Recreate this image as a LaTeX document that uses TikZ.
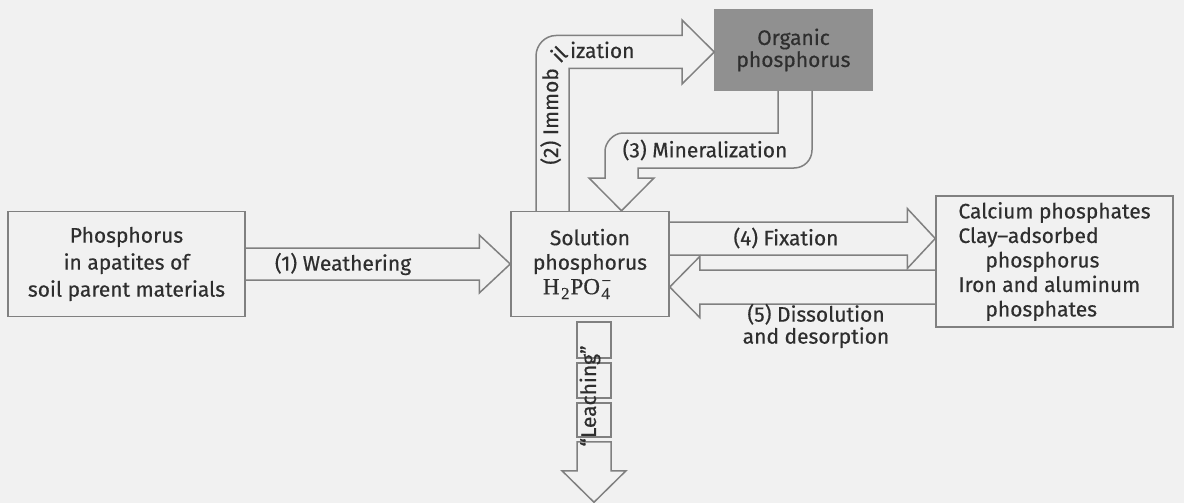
\documentclass[tikz,border=0pt]{standalone}
\usepackage{fontspec}
\setmainfont{Fira Sans}[FakeBold=0.45]
\newfontfamily\hserif{Liberation Serif}[FakeBold=0.6]
\usetikzlibrary{calc}
\definecolor{bgc}{HTML}{F1F1F1}
\definecolor{linec}{HTML}{808080}
\definecolor{txtc}{HTML}{2E2E2E}
\definecolor{orgc}{HTML}{909090}
\newcommand{\hsub}[1]{\raisebox{-5pt}{\fontsize{17}{17}\selectfont #1}}
\newcommand{\hpo}{{\hserif\fontsize{23}{24}\selectfont H\kern1.5pt\hsub{2}\kern1pt PO\kern1.5pt\rlap{\hsub{4}}\raisebox{8pt}{\fontsize{17}{17}\selectfont −}}}
\begin{document}
\begin{tikzpicture}[x=1pt,y=-1pt,
  pbox/.style={draw=linec,line width=1.5pt,text=txtc,align=center,inner sep=0pt},
  barrow/.style={draw=linec,line width=1.5pt,line join=miter},
  lbl/.style={text=txtc,inner sep=0pt,font=\fontsize{21}{25}\selectfont}]
\fill[bgc] (0,0) rectangle (1184,503);
\useasboundingbox (0,0) rectangle (1184,503);

% boxes
\node[pbox,minimum width=237pt,minimum height=105pt,font=\fontsize{21}{27}\selectfont] (src) at (126.5,264) {Phosphorus\\in apatites of\\soil parent materials};
\node[pbox,minimum width=158pt,minimum height=105pt,font=\fontsize{21}{24.5}\selectfont] (sol) at (590,264) {Solution\\phosphorus\\\hpo\hspace*{26pt}};
\node[pbox,draw=orgc,fill=orgc,minimum width=157pt,minimum height=80pt,font=\fontsize{21}{22}\selectfont] (org) at (793.5,50) {Organic\\phosphorus};
\node[pbox,align=left,minimum width=237pt,minimum height=131pt,font=\fontsize{21}{24.5}\selectfont] (rb) at (1054.5,261.5) {Calcium phosphates\\Clay--adsorbed\\\hspace*{27pt}phosphorus\\Iron and aluminum\\\hspace*{27pt}phosphates};

% (1) weathering
\draw[barrow] ($(src.east)+(0,-16)$) -- ($(sol.west)+(-31,-16)$) -- ($(sol.west)+(-31,-29)$) -- (sol.west) -- ($(sol.west)+(-31,29)$) -- ($(sol.west)+(-31,16)$) -- ($(src.east)+(0,16)$);
\node[lbl] (wl) at (343,264) {(1) Weathering};

% (4) fixation
\coordinate (T4) at ($(rb.west)+(0,-23)$);
\draw[barrow] ($(sol.east)+(0,-42)$) -- ($(T4)+(-28,-16.5)$) -- ($(T4)+(-28,-30)$) -- (T4) -- ($(T4)+(-28,30)$) -- ($(T4)+(-28,16.5)$) -- ($(sol.east)+(0,-9)$);
\node[lbl] (fl) at (786,238) {(4) Fixation};

% (5) dissolution
\coordinate (T5) at ($(sol.east)+(0,23)$);
\draw[barrow] ($(rb.west)+(0,8.5)$) -- ($(T5)+(30,-17)$) -- ($(T5)+(30,-30.5)$) -- (T5) -- ($(T5)+(30,30.5)$) -- ($(T5)+(30,17)$) -- ($(rb.west)+(0,42.5)$);
\node[lbl,align=center,font=\fontsize{21}{22}\selectfont] (dl) at (816,326) {(5) Dissolution\\and desorption};

% (2) immobilization
\coordinate (T2) at ($(org.west)+(0,2)$);
\coordinate (I1) at ($(sol.north)+(-54,0)$);
\coordinate (I2) at ($(sol.north)+(-21,0)$);
\draw[barrow] (I1) -- (536,56) .. controls (536,45) and (545,35.5) .. (556,35.5) -- (682,35.5) -- (682,20) -- (T2) -- (682,84) -- (682,68.5) -- (569,68.5) -- (I2);
\node[lbl,rotate=90,anchor=base east] (il1) at (558,68) {(2) Immob};
\node[lbl,rotate=45,anchor=base west] (il2) at (560,64) {il};
\node[lbl,anchor=base west] (il3) at (570,58) {ization};

% (3) mineralization
\coordinate (M1) at ($(org.south)+(-15.5,0)$);
\coordinate (M2) at ($(org.south)+(18.5,0)$);
\coordinate (T3) at ($(sol.north)+(31.5,0)$);
\draw[barrow] (M1) -- (778,133) -- (623,133) .. controls (613,133) and (605,143) .. (605,151) -- (605,178) -- (589,178) -- (T3) -- (654,178) -- (638,178) -- (638,168) -- (794,168) .. controls (804,168) and (812,160) .. (812,150) -- (M2);
\node[lbl] (ml) at (705,150) {(3) Mineralization};

% leaching
\coordinate (L0) at ($(sol.south)+(4,0)$);
\coordinate (LT) at ($(L0)+(0,185)$);
\draw[barrow] ($(L0)+(-17,4.5)$) rectangle ($(L0)+(17,40.5)$);
\draw[barrow] ($(L0)+(-17,45.5)$) rectangle ($(L0)+(17,80.5)$);
\draw[barrow] ($(L0)+(-17,85.5)$) rectangle ($(L0)+(17,119.5)$);
\draw[barrow] ($(L0)+(-17,124.5)$) -- ($(L0)+(-17,153.5)$) -- ($(L0)+(-32,153.5)$) -- (LT) -- ($(L0)+(32,153.5)$) -- ($(L0)+(17,153.5)$) -- ($(L0)+(17,124.5)$) -- cycle;
\node[lbl,rotate=90] (ll) at (590,396) {“Leaching”};
\end{tikzpicture}
\end{document}
